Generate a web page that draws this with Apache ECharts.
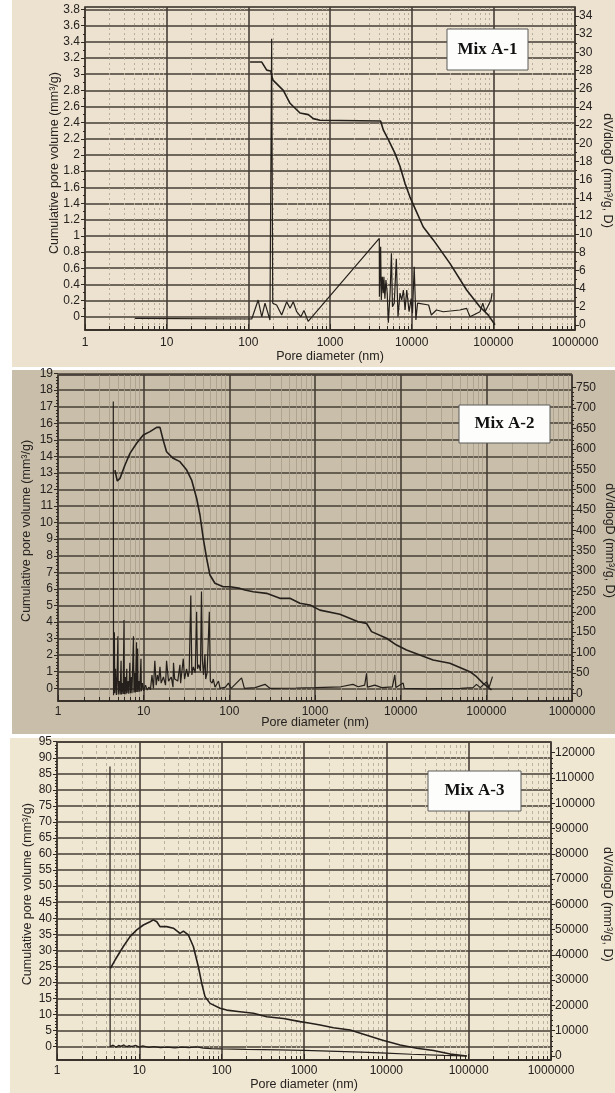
<!DOCTYPE html>
<html><head><meta charset="utf-8">
<script src="https://cdn.jsdelivr.net/npm/echarts@6/dist/echarts.min.js"></script>
<style>html,body{margin:0;padding:0;background:#fff}#c{width:615px;height:1093px}</style>
</head><body><div id="c"></div>
<script>
// ---------- tick labels ----------
const xTickLabels = ['1','10','100','1000','10000','100000','1000000'];
const xName = 'Pore diameter (nm)';
const leftName = 'Cumulative pore volume (mm\u00b3/g)';
const rightName = 'dV/dlogD (mm\u00b3/g, D)';
const panelTitles = ['Mix A-1', 'Mix A-2', 'Mix A-3'];
// left axis [max, interval], right axis [max, interval]
const leftAxes = [[3.8, 0.2], [19, 1], [95, 5]];
const rightAxes = [[34, 2], [750, 50], [120000, 10000]];

// ---------- Mix A-1 ----------
const a1CumD = [105,146,168,188,199,268,324,429,543,569,625,754,4170,4495,5176,6250,7194,8280,9540,10975,13870,18400,29400,47100,68700,86900,104700];
const a1CumV = [3.15,3.15,3.05,3.04,2.93,2.80,2.64,2.52,2.50,2.51,2.45,2.43,2.42,2.31,2.19,2.02,1.86,1.65,1.48,1.34,1.11,0.95,0.66,0.33,0.12,0.02,-0.10];
const a1DifD = [4.1,110,132,146,160,184,193,199,222,256,295,324,355,391,440,480,540,4015,4030,4170,4250,4370,4490,4570,4700,4840,5020,5180,5440,5650,5820,6120,6490,6800,7200,7560,7920,8300,8700,9300,9850,10230,10740,11270,11800,16130,17400,20100,24400,38900,47100,51800,68700,74300,79300,93600,96500];
const a1DifV = [0.73,0.66,2.75,0.9,2.4,0.55,31.5,2.4,2.2,1.1,2.56,1.85,2.56,1.46,0.9,1.6,0.4,9.53,3.1,8.6,2.75,5.3,3.5,5.3,2.9,4.95,3.5,0.26,3.5,7.9,2.0,2.4,7.3,0.9,3.5,2.75,3.85,1.65,3.85,1.46,2.9,1.29,6.4,0.55,2.4,2.2,1.1,1.65,1.46,1.65,1.83,0.9,1.46,2.4,1.46,2.75,3.5];

// ---------- Mix A-2 ----------
const a2CumD = [4.62,4.92,5.29,6.05,6.92,8.28,9.89,11.85,14.2,15.5,16.9,18.5,22.1,26.5,31.8,36.3,41.5,45.4,49.6,54.3,59.4,67.9,84.9,102,133,152,190,272,389,509,666,872,1140,1950,3190,4000,4570,6840,8950,11700,23900,37500,64200,76900,91800,115000];
const a2CumV = [13.17,12.51,12.67,13.48,14.18,14.79,15.29,15.49,15.75,15.75,14.98,14.28,13.88,13.68,13.17,12.57,11.47,10.46,9.05,7.85,6.84,6.34,6.13,6.13,6.03,5.93,5.83,5.73,5.43,5.43,5.13,5.03,4.72,4.47,4.02,3.92,3.42,3.02,2.61,2.31,1.71,1.51,1.00,0.70,0.30,-0.10];
const a2DifD = [4.42,4.45,4.55,4.6,4.7,4.8,4.9,5.0,5.05,5.2,5.3,5.45,5.5,5.6,5.75,5.9,5.95,6.1,6.2,6.35,6.4,6.6,6.7,6.9,7.0,7.2,7.3,7.6,7.7,7.9,8.0,8.25,8.3,8.5,8.6,8.8,9.0,9.3,9.4,9.7,10,10.5,11,11.5,12,12.5,13,13.5,14,14.5,15,15.5,16,17,18,18.5,19.5,21,22,22.3,23,25,26.5,27,29,30,31.7,33,34,35.5,36.5,38,40,41.5,42.5,44,46,47.3,48.5,50,51.9,53,55,58.4,60,63,65,68,74.7,78,90,97.6,105,139,150,200,261,300,600,1000,2000,2770,3200,3800,4000,4100,5000,6000,8000,8550,8800,10700,11000,20000,50000,70000,76700,85000,100500,108000,118000];
const a2DifV = [716,-5,150,0,60,-4,40,140,-3,30,-3,80,-3,25,-2,180,-2,40,-2,60,0,30,-1,75,0,40,0,140,2,50,2,125,3,110,3,30,4,85,5,25,6,20,8,15,9,45,12,80,20,45,30,65,25,40,20,80,30,40,15,75,35,30,70,25,85,35,60,40,55,240,45,65,50,200,60,70,55,250,80,45,95,35,50,200,30,25,35,15,30,12,15,25,12,38,12,14,22,12,13,14,16,22,16,20,49,15,20,14,16,45,14,25,12,11,12,14,22,14,28,15,41];

// ---------- Mix A-3 ----------
const a3CumD = [4.45,5.07,6.39,7.71,9.29,11.2,13.5,14.8,16.3,17.8,21.5,25.9,31.2,34.3,39.4,45.3,52.1,57.3,62.8,72.3,95.6,115,167,243,353,562,897,1190,1570,2280,3630,5790,8820,14700,23500,37400,59600,95000];
const a3CumV = [24.4,27.0,31.2,34.3,36.4,37.9,38.9,39.5,38.9,37.4,37.4,36.9,35.3,36.0,34.8,31.2,24.9,19.7,15.6,13.5,12.0,11.4,10.9,10.4,9.35,8.8,7.8,7.3,6.76,5.9,5.2,3.6,2.1,0.53,-0.5,-1.2,-2.3,-2.9];
const a3DifD = [4.40,4.42,4.8,5.2,5.6,6,6.5,7,7.5,8,9,10,11,13,15,18,22,27,33,40,50,60,75,100,200,500,1000,2000,5000,10000,20000,50000,95000];
const a3DifV = [114500,3700,4300,3500,4200,3800,4400,3600,4100,3700,4200,3500,4000,3400,3700,3300,3500,3200,3500,3300,3600,3100,2900,2800,2600,2400,2200,1900,1500,1100,700,250,0];

// ---------- layout ----------
const H = 1093;
const panels = [
  {left:85, right:40, fTop:7, fBot:330, aTop:9.5, aBot:316.7, bTop:16, bBot:325, bg:'#ece2cf', rect:[12,0,603,367],
   leftMinor:2, rightMinor:2, lGap:23.5, rGap:25.5, xGap:20, lblMargin:7, box:[447,29,81,41],
   minorStyle:{color:'#b7ad98', type:[2,3], width:1},
   cum:[a1CumD,a1CumV], dif:[a1DifD,a1DifV]},
  {left:58, right:43, fTop:375, fBot:701, aTop:373.5, aBot:688.3, bTop:387.7, bBot:693.3, bg:'#c9bea9', rect:[12,370,603,364],
   leftMinor:5, rightMinor:5, lGap:24.5, rGap:31, xGap:15, lblMargin:5, box:[459,405,91,38],
   minorStyle:{color:'#a89d89', type:'solid', width:0.8},
   cum:[a2CumD,a2CumV], dif:[a2DifD,a2DifV]},
  {left:57, right:64, fTop:742, fBot:1060, aTop:741.7, aBot:1046.7, bTop:752.7, bBot:1056, bg:'#f0e7d3', rect:[10,738,605,355],
   leftMinor:5, rightMinor:5, lGap:22.5, rGap:49.5, xGap:18, lblMargin:5, box:[428,771,93,40],
   minorStyle:{color:'#bcb2a0', type:[3,3], width:1},
   cum:[a3CumD,a3CumV], dif:[a3DifD,a3DifV]}
];

const FONT = '"Liberation Sans", Arial, sans-serif';
const LINE = '#25201b';
const GRIDC = '#463e36';
const FRAME = '#2e2822';
const TXT = '#262220';

const minorVals = [];
for (let e = 0; e < 6; e++) for (let m = 2; m <= 9; m++) minorVals.push(m * Math.pow(10, e));

const grid = [], xAxis = [], yAxis = [], series = [], graphic = [];
panels.forEach((p, i) => {
  const gF = 3*i, gA = 3*i+1, gB = 3*i+2;
  const common = {left:p.left, right:p.right, containLabel:false, outerBoundsMode:'none'};
  grid.push(Object.assign({top:p.fTop, bottom:H-p.fBot, show:true, borderColor:FRAME, borderWidth:1.6, backgroundColor:'transparent'}, common));
  grid.push(Object.assign({top:p.aTop, bottom:H-p.aBot}, common));
  grid.push(Object.assign({top:p.bTop, bottom:H-p.bBot}, common));

  xAxis.push({type:'log', logBase:10, gridIndex:gF, min:1, max:1e6, splitNumber:6,
    axisLine:{show:true, lineStyle:{color:FRAME, width:1.6}},
    axisTick:{show:true, inside:true, length:6, lineStyle:{color:FRAME, width:1}},
    axisLabel:{formatter:v => xTickLabels[Math.round(Math.log10(v))] || '', color:TXT, fontSize:12, fontFamily:FONT, margin:p.lblMargin},
    splitLine:{show:true, lineStyle:{color:GRIDC, width:1.6}},
    name:xName, nameLocation:'middle', nameGap:p.xGap, nameMoveOverlap:false,
    nameTextStyle:{color:TXT, fontSize:12.5, fontFamily:FONT}});
  xAxis.push({type:'log', logBase:10, gridIndex:gA, min:1, max:1e6, show:false});
  xAxis.push({type:'log', logBase:10, gridIndex:gB, min:1, max:1e6, show:false});

  yAxis.push({type:'value', gridIndex:gF, min:0, max:1, show:false});
  yAxis.push({type:'value', gridIndex:gA, position:'left', min:0, max:leftAxes[i][0], interval:leftAxes[i][1],
    axisLine:{show:false}, axisTick:{show:true, length:4, lineStyle:{color:FRAME}},
    minorTick:{show:true, splitNumber:p.leftMinor, length:2, lineStyle:{color:FRAME}},
    axisLabel:{color:TXT, fontSize:12, fontFamily:FONT, margin:5, formatter:v => String(+v.toFixed(2))},
    splitLine:{show:true, lineStyle:{color:GRIDC, width:1.5}},
    name:leftName, nameLocation:'middle', nameGap:p.lGap, nameRotate:90, nameMoveOverlap:false,
    nameTextStyle:{color:TXT, fontSize:12.5, fontFamily:FONT}});
  yAxis.push({type:'value', gridIndex:gB, position:'right', min:0, max:rightAxes[i][0], interval:rightAxes[i][1],
    axisLine:{show:false}, axisTick:{show:true, length:4, lineStyle:{color:FRAME}},
    minorTick:{show:true, splitNumber:p.rightMinor, length:2, lineStyle:{color:FRAME}},
    axisLabel:{color:TXT, fontSize:12, fontFamily:FONT, margin:4, formatter:v => String(Math.round(v))},
    splitLine:{show:false},
    name:rightName, nameLocation:'middle', nameGap:p.rGap, nameRotate:-90, nameMoveOverlap:false,
    nameTextStyle:{color:TXT, fontSize:12.5, fontFamily:FONT}});

  // minor vertical gridlines (2..9 per decade)
  series.push({type:'line', xAxisIndex:gF, yAxisIndex:gF, data:[], silent:true, animation:false,
    markLine:{silent:true, animation:false, symbol:['none','none'], label:{show:false},
      lineStyle:p.minorStyle,
      data:minorVals.map(v => ({xAxis:v}))}});
  // minor x ticks along the bottom axis
  const tl = 4 / (p.fBot - p.fTop);
  series.push({type:'line', xAxisIndex:gF, yAxisIndex:gF, data:[], silent:true, animation:false,
    markLine:{silent:true, animation:false, symbol:['none','none'], label:{show:false},
      lineStyle:{color:FRAME, type:'solid', width:1},
      data:minorVals.map(v => [{coord:[v,0]},{coord:[v,tl]}])}});

  series.push({type:'line', name:'cum'+i, xAxisIndex:gA, yAxisIndex:gA, clip:false, silent:true, animation:false,
    showSymbol:false, symbol:'none', z:5, lineStyle:{color:LINE, width:1.6},
    data:p.cum[0].map((d,k) => [d, p.cum[1][k]])});
  series.push({type:'line', name:'dif'+i, xAxisIndex:gB, yAxisIndex:gB, clip:false, silent:true, animation:false,
    showSymbol:false, symbol:'none', z:5, lineStyle:{color:LINE, width:1.2},
    data:p.dif[0].map((d,k) => [d, p.dif[1][k]])});

  graphic.push({type:'rect', z:-10, silent:true, shape:{x:p.rect[0], y:p.rect[1], width:p.rect[2], height:p.rect[3]}, style:{fill:p.bg}});
  graphic.push({type:'rect', z:50, silent:true, shape:{x:p.box[0], y:p.box[1], width:p.box[2], height:p.box[3]}, style:{fill:'#fdfdfb', stroke:'#5a5a5a', lineWidth:1}});
  graphic.push({type:'text', z:51, silent:true, x:p.box[0]+p.box[2]/2, y:p.box[1]+p.box[3]/2,
    style:{text:panelTitles[i], fill:'#111', font:'bold 17px "Liberation Serif", "Times New Roman", serif', align:'center', verticalAlign:'middle'}});
});

const chart = echarts.init(document.getElementById('c'), null, {renderer:'canvas'});
chart.setOption({backgroundColor:'#ffffff', animation:false, grid, xAxis, yAxis, series, graphic});
</script></body></html>
